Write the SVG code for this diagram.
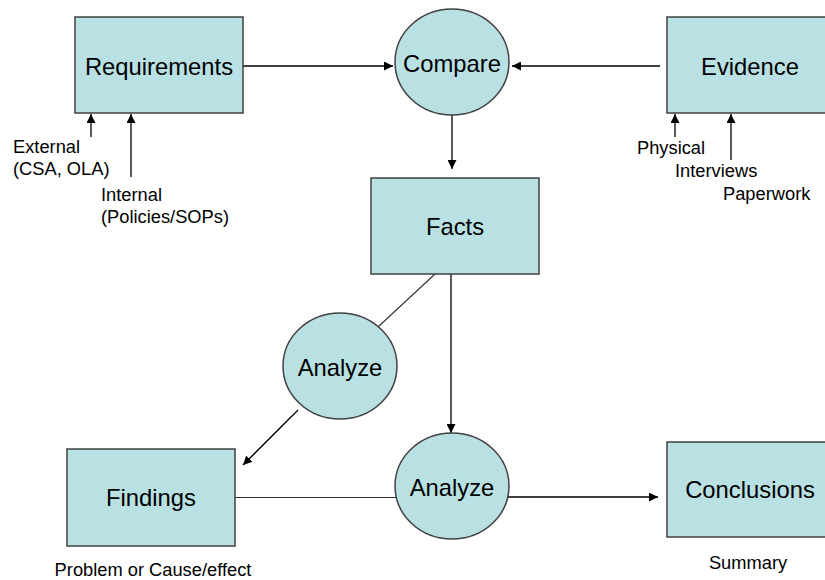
<svg xmlns="http://www.w3.org/2000/svg" width="825" height="580" viewBox="0 0 825 580">
<style>
.box{fill:#b9e0e3;stroke:#404040;stroke-width:1.5}
.main{font-family:"Liberation Sans",Arial,sans-serif;font-size:23.8px;fill:#000;text-anchor:middle}
.small{font-family:"Liberation Sans",Arial,sans-serif;font-size:18.3px;fill:#000}
.ln{stroke:#000;stroke-width:1.3;fill:none}
.thin{stroke:#303030;stroke-width:1.1;fill:none}
</style>
<defs>
<marker id="ah" viewBox="0 0 10 10" refX="10" refY="5" markerWidth="9" markerHeight="9" markerUnits="userSpaceOnUse" orient="auto">
<path d="M0,0 L10,5 L0,10 z" fill="#000"/>
</marker>
</defs>
<rect width="825" height="580" fill="#fff"/>
<g id="connectors">
<line class="ln" x1="243" y1="66" x2="393" y2="66" marker-end="url(#ah)"/>
<line class="ln" x1="660" y1="66" x2="512" y2="66" marker-end="url(#ah)"/>
<line class="ln" x1="452" y1="115" x2="452" y2="169" marker-end="url(#ah)"/>
<line class="thin" x1="435" y1="274" x2="378" y2="327"/>
<line class="ln" x1="298" y1="410" x2="243" y2="465" marker-end="url(#ah)"/>
<line class="ln" x1="451" y1="274" x2="451" y2="433" marker-end="url(#ah)"/>
<line class="thin" x1="235" y1="497.5" x2="396" y2="497.5"/>
<line class="ln" x1="507" y1="497" x2="658" y2="497" marker-end="url(#ah)"/>
<line class="ln" x1="91" y1="137" x2="91" y2="114" marker-end="url(#ah)"/>
<line class="ln" x1="131" y1="177" x2="131" y2="114" marker-end="url(#ah)"/>
<line class="ln" x1="675" y1="137" x2="675" y2="114" marker-end="url(#ah)"/>
<line class="ln" x1="731" y1="160" x2="731" y2="114" marker-end="url(#ah)"/>
</g>
<g id="requirements">
<rect class="box" x="75" y="17" width="168" height="96"/>
<text class="main" x="159" y="75">Requirements</text>
</g>
<g id="compare">
<ellipse class="box" cx="452" cy="62" rx="57" ry="53"/>
<text class="main" x="452" y="72">Compare</text>
</g>
<g id="evidence">
<rect class="box" x="667" y="17" width="168" height="96"/>
<text class="main" x="750" y="75">Evidence</text>
</g>
<g id="facts">
<rect class="box" x="371" y="178" width="168" height="96"/>
<text class="main" x="455" y="235">Facts</text>
</g>
<g id="analyze1">
<ellipse class="box" cx="340" cy="366" rx="57" ry="53"/>
<text class="main" x="340" y="376">Analyze</text>
</g>
<g id="findings">
<rect class="box" x="67" y="449" width="168" height="97"/>
<text class="main" x="151" y="506">Findings</text>
</g>
<g id="analyze2">
<ellipse class="box" cx="452" cy="486" rx="57" ry="53"/>
<text class="main" x="452" y="496">Analyze</text>
</g>
<g id="conclusions">
<rect class="box" x="667" y="442" width="168" height="95"/>
<text class="main" x="750" y="498">Conclusions</text>
</g>
<g id="labels">
<text class="small" x="13" y="153">External</text>
<text class="small" x="13" y="175">(CSA, OLA)</text>
<text class="small" x="101" y="201">Internal</text>
<text class="small" x="101" y="223">(Policies/SOPs)</text>
<text class="small" x="637" y="154">Physical</text>
<text class="small" x="675" y="177">Interviews</text>
<text class="small" x="723" y="200">Paperwork</text>
<text class="small" x="153" y="576" text-anchor="middle">Problem or Cause/effect</text>
<text class="small" x="748" y="569" text-anchor="middle">Summary</text>
</g>
</svg>
